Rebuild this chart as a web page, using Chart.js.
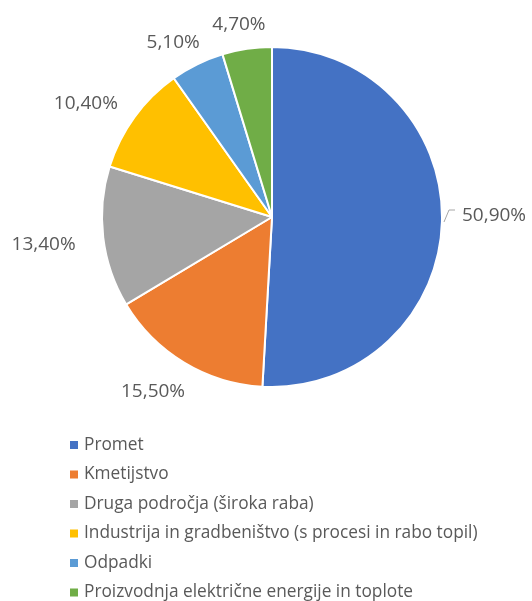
<!DOCTYPE html>
<html>
<head>
<meta charset="utf-8">
<script src="https://cdn.jsdelivr.net/npm/chart.js@4"></script>
<style>
  html, body { margin: 0; padding: 0; background: #fff; }
  #wrap { width: 532px; height: 601px; }
</style>
</head>
<body>
<div id="wrap"><canvas id="myChart" width="532" height="601"></canvas></div>
<script>
// Deleži po sektorjih (v %)
const categories = [
    'Promet',
    'Kmetijstvo',
    'Druga področja (široka raba)',
    'Industrija in gradbeništvo (s procesi in rabo topil)',
    'Odpadki',
    'Proizvodnja električne energije in toplote'
];
const shares = [50.9, 15.5, 13.4, 10.4, 5.1, 4.7];
const sliceColors = ['#4472C4', '#ED7D31', '#A5A5A5', '#FFC000', '#5B9BD5', '#70AD47'];

const textColor = '#595959';
const fontFamily = '"Open Sans", "Liberation Sans", Arial, sans-serif';

// Oznake vrednosti ob robu tortnega grafa
const pieLabels = {
    id: 'pieLabels',
    afterDatasetsDraw(chart) {
        const ctx = chart.ctx;
        const meta = chart.getDatasetMeta(0);
        ctx.save();
        ctx.font = '19px ' + fontFamily;
        ctx.fillStyle = textColor;
        ctx.textAlign = 'center';
        ctx.textBaseline = 'middle';
        meta.data.forEach((arc, i) => {
            const p = arc.getProps(['x', 'y', 'startAngle', 'endAngle', 'outerRadius'], true);
            const mid = (p.startAngle + p.endAngle) / 2;
            const dx = Math.cos(mid), dy = Math.sin(mid);
            const text = shares[i].toFixed(2).replace('.', ',') + '%';
            const w = ctx.measureText(text).width;
            let cx = p.x + dx * (p.outerRadius + 24 + w / 2 + 4);
            let cy = p.y + dy * (p.outerRadius + 29) + 4;
            if (i === 0) {
                // največji izsek ima oznako s kratko povezovalno črto
                cx = p.x + p.outerRadius + 20 + w / 2;
                cy = p.y - 1;
                ctx.strokeStyle = '#A6A6A6';
                ctx.lineWidth = 1;
                ctx.beginPath();
                ctx.moveTo(p.x + p.outerRadius + 2, p.y + 5);
                ctx.lineTo(p.x + p.outerRadius + 7, p.y - 7);
                ctx.lineTo(p.x + p.outerRadius + 13, p.y - 7);
                ctx.stroke();
            }
            ctx.fillText(text, cx, cy);
        });
        ctx.restore();
    }
};

// Legenda v enem stolpcu pod grafom
const columnLegend = {
    id: 'columnLegend',
    afterDraw(chart) {
        const ctx = chart.ctx;
        ctx.save();
        ctx.font = '17.3px ' + fontFamily;
        ctx.textBaseline = 'middle';
        ctx.textAlign = 'left';
        categories.forEach((name, i) => {
            const y = 445 + i * 29.5;
            ctx.fillStyle = sliceColors[i];
            ctx.fillRect(70, y - 4, 8, 8);
            ctx.fillStyle = textColor;
            ctx.fillText(name, 84, y);
        });
        ctx.restore();
    }
};

const ctx = document.getElementById('myChart').getContext('2d');
new Chart(ctx, {
    type: 'pie',
    data: {
        labels: categories,
        datasets: [{
            data: shares,
            backgroundColor: sliceColors,
            borderColor: '#ffffff',
            borderWidth: 2
        }]
    },
    options: {
        responsive: false,
        animation: false,
        layout: { padding: { left: 101, right: 89, top: 46, bottom: 213 } },
        plugins: {
            legend: { display: false },
            tooltip: { enabled: false }
        }
    },
    plugins: [pieLabels, columnLegend]
});
</script>
</body>
</html>
